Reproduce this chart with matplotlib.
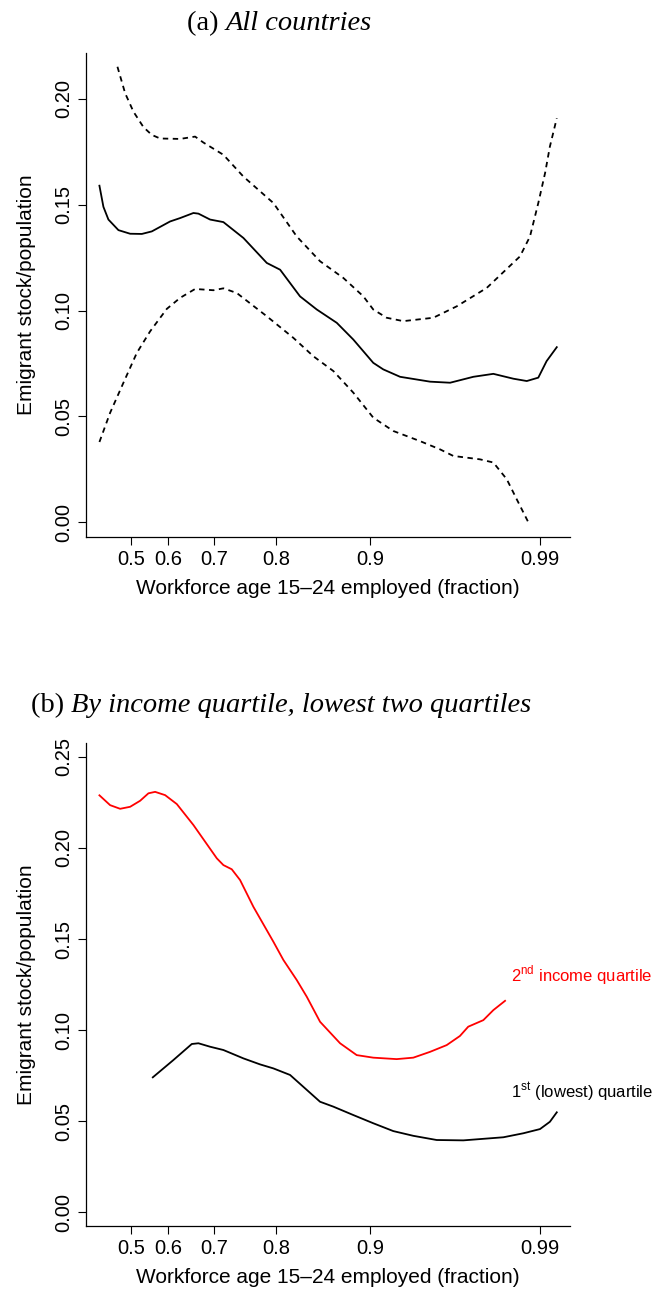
import numpy as np
import matplotlib
matplotlib.use("Agg")
import matplotlib.pyplot as plt

plt.rcParams['font.family'] = ['Liberation Sans', 'DejaVu Sans']
plt.rcParams['mathtext.fontset'] = 'custom'
plt.rcParams['mathtext.rm'] = 'Liberation Sans'

# --- data ---
# panel (a): all countries, estimate and confidence band
a_est_x = [0.4143, 0.4251, 0.4386, 0.4657, 0.4973, 0.5289, 0.5559, 0.6043, 0.6261,
           0.655, 0.6659, 0.6913, 0.715, 0.7473, 0.785, 0.8043, 0.8255, 0.8433,
           0.8646, 0.8822, 0.9017, 0.907, 0.9159, 0.9318, 0.9424, 0.9547, 0.9653,
           0.9759, 0.983, 0.9891, 0.9922, 0.9956]
a_est_y = [0.159, 0.149, 0.143, 0.138, 0.1363, 0.1362, 0.1374, 0.1421, 0.1437,
           0.1461, 0.1458, 0.143, 0.1418, 0.1343, 0.1225, 0.1193, 0.1067, 0.1005,
           0.0942, 0.0863, 0.0753, 0.0722, 0.0687, 0.0664, 0.0659, 0.0687, 0.0701,
           0.0678, 0.0667, 0.0683, 0.0761, 0.0827]

a_hi_x = [0.463, 0.4838, 0.5062, 0.5332, 0.5559, 0.5784, 0.6261, 0.6587, 0.6767,
          0.715, 0.7473, 0.7957, 0.822, 0.8468, 0.8716, 0.8929, 0.9017, 0.9088,
          0.9176, 0.9335, 0.9459, 0.9618, 0.9794, 0.9847, 0.9891, 0.9917, 0.9933,
          0.9956]
a_hi_y = [0.2152, 0.2027, 0.194, 0.1867, 0.183, 0.1813, 0.1811, 0.1822, 0.1794,
          0.1736, 0.1633, 0.1508, 0.135, 0.1233, 0.1154, 0.1067, 0.1005, 0.0966,
          0.095, 0.0966, 0.102, 0.1107, 0.1256, 0.135, 0.1508, 0.165, 0.1775,
          0.1909]

a_lo_x = [0.4143, 0.4432, 0.4792, 0.5154, 0.5514, 0.5965, 0.6261, 0.6587, 0.6985,
          0.715, 0.7366, 0.785, 0.8184, 0.8397, 0.861, 0.8822, 0.9017, 0.9123,
          0.9265, 0.9371, 0.9441, 0.9582, 0.9653, 0.9724, 0.9777, 0.9838]
a_lo_y = [0.0379, 0.0517, 0.0659, 0.08, 0.0902, 0.1008, 0.106, 0.1102, 0.1096,
          0.1105, 0.1083, 0.0973, 0.0871, 0.0784, 0.0714, 0.0612, 0.0494, 0.0431,
          0.0383, 0.0344, 0.0313, 0.0297, 0.0282, 0.0203, 0.0108, 0.0]

# panel (b): lowest two income quartiles
q2_x = [0.4143, 0.4432, 0.4703, 0.4973, 0.5243, 0.5468, 0.5649, 0.5919, 0.6189,
        0.655, 0.7044, 0.715, 0.7285, 0.7419, 0.7634, 0.7957, 0.8078, 0.822,
        0.8327, 0.8468, 0.8681, 0.8858, 0.9017, 0.9141, 0.9229, 0.9318, 0.9406,
        0.9476, 0.952, 0.96, 0.9653, 0.9715]
q2_y = [0.2289, 0.2235, 0.2215, 0.2226, 0.2259, 0.23, 0.2308, 0.229, 0.2241,
        0.2126, 0.1943, 0.1906, 0.1883, 0.1824, 0.1677, 0.1485, 0.1385, 0.1275,
        0.1183, 0.1046, 0.0928, 0.0863, 0.0849, 0.0841, 0.0849, 0.0881, 0.0918,
        0.0968, 0.1019, 0.1055, 0.111, 0.1161]

q1_x = [0.5586, 0.6115, 0.6515, 0.6659, 0.6913, 0.715, 0.7473, 0.7742, 0.7957,
        0.8149, 0.829, 0.8468, 0.861, 0.8822, 0.9017, 0.9123, 0.9229, 0.9353,
        0.9494, 0.9706, 0.9812, 0.99, 0.9933, 0.9956]
q1_y = [0.0741, 0.0836, 0.0924, 0.0928, 0.0909, 0.0891, 0.0845, 0.0812, 0.079,
        0.0754, 0.0689, 0.0607, 0.058, 0.0534, 0.0489, 0.0446, 0.042, 0.0397,
        0.0395, 0.0412, 0.0434, 0.0457, 0.0497, 0.0549]

x_ticks = [0.5, 0.6, 0.7, 0.8, 0.9, 0.99]
x_tick_labels = ['0.5', '0.6', '0.7', '0.8', '0.9', '0.99']

# non-linear x axis: piecewise mapping of employed fraction to axis position
scale_frac = [0.30, 0.40, 0.50, 0.60, 0.70, 0.80, 0.90, 0.99, 1.00]
scale_pos = [57, 94, 131, 168, 214, 276, 370, 540, 570]


def fwd(x):
    return np.interp(x, scale_frac, scale_pos)


def inv(u):
    return np.interp(u, scale_pos, scale_frac)


fig = plt.figure(figsize=(6.55, 12.99), dpi=100)
ax1 = fig.add_axes([0.1313, 0.5866, 0.7389, 0.3726])
ax2 = fig.add_axes([0.1313, 0.0562, 0.7389, 0.3718])

ax1.plot(a_est_x, a_est_y, color='black', lw=1.3)
ax1.plot(a_hi_x, a_hi_y, color='black', lw=1.3, dashes=(3, 2.5))
ax1.plot(a_lo_x, a_lo_y, color='black', lw=1.3, dashes=(3, 2.5))

ax2.plot(q2_x, q2_y, color='red', lw=1.3)
ax2.plot(q1_x, q1_y, color='black', lw=1.3)

for ax, ylo, ytop, yticks in [(ax1, -0.007, 0.2217, np.arange(0, 0.201, 0.05)),
                              (ax2, -0.0075, 0.2576, np.arange(0, 0.251, 0.05))]:
    ax.set_xscale('function', functions=(fwd, inv))
    ax.set_xlim(0.378, 1.0)
    ax.set_ylim(ylo, ytop)
    ax.set_xticks(x_ticks)
    ax.set_xticklabels(x_tick_labels)
    ax.set_yticks(yticks)
    ax.set_yticklabels(['%.2f' % v for v in yticks], rotation=90, va='center')
    ax.minorticks_off()
    ax.spines['top'].set_visible(False)
    ax.spines['right'].set_visible(False)
    for s in ['left', 'bottom']:
        ax.spines[s].set_linewidth(0.9)
    ax.tick_params(direction='out', length=5.5, width=0.8, labelsize=14.5, pad=4)
    ax.set_ylabel('Emigrant stock/population', fontsize=15, labelpad=13)
    ax.set_xlabel('Workforce age 15\u201324 employed (fraction)', fontsize=15, labelpad=7)

# titles: upright panel letter followed by italic caption
serif = ['Liberation Serif', 'DejaVu Serif']
t1 = fig.text(0.2855, 1 - 30 / 1299, '(a) ', family=serif, fontsize=20.5, va='baseline')
ax1.annotate('All countries', xy=(1, 0), xycoords=t1, va='bottom', ha='left',
             family=serif, fontsize=20.5, style='italic')
t2 = fig.text(0.047, 1 - 712 / 1299, '(b) ', family=serif, fontsize=20.5, va='baseline')
ax2.annotate('By income quartile, lowest two quartiles', xy=(1, 0), xycoords=t2,
             va='bottom', ha='left', family=serif, fontsize=20.5, style='italic')

fig.text(511 / 655, 1 - 975 / 1299, r'2$^{\rm nd}$ income quartile', color='red',
         fontsize=12, va='center', ha='left')
fig.text(511 / 655, 1 - 1092 / 1299, r'1$^{\rm st}$ (lowest) quartile', color='black',
         fontsize=12, va='center', ha='left')

fig.savefig('out.png', dpi=100)
